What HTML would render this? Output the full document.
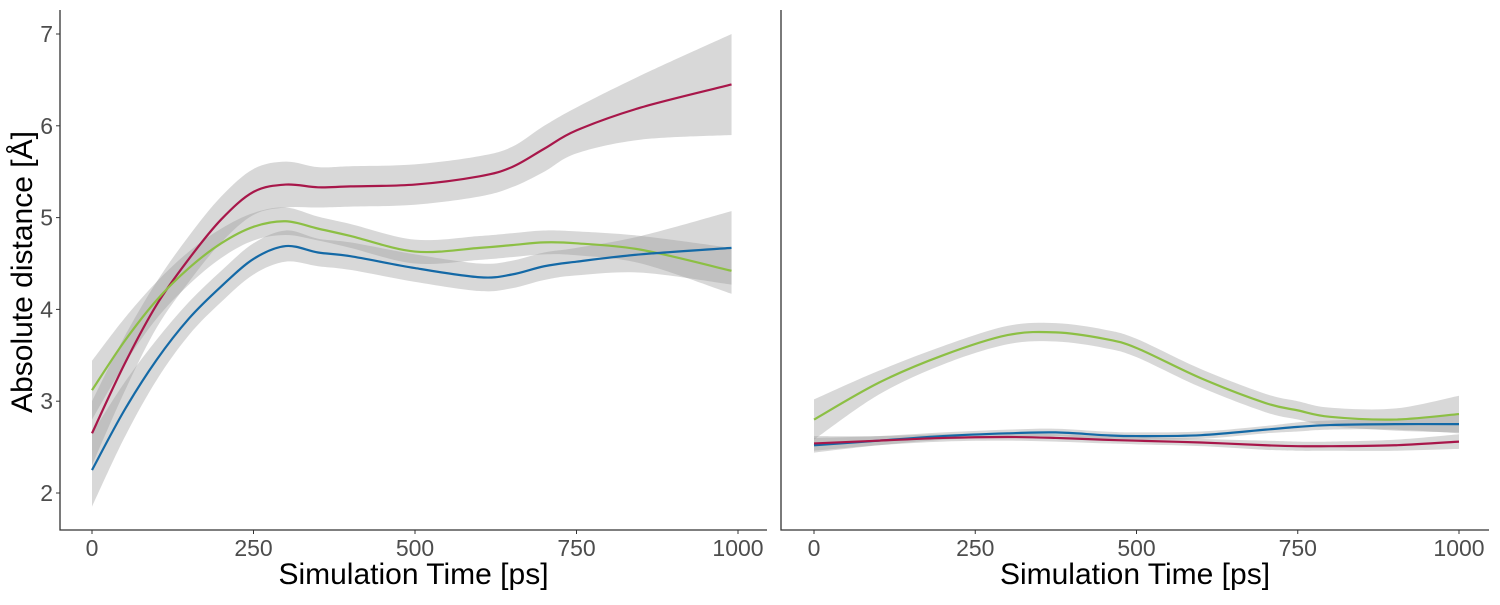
<!DOCTYPE html>
<html><head><meta charset="utf-8"><style>
body{margin:0;background:#fff}
svg text{font-family:"Liberation Sans",sans-serif}
</style></head><body>
<svg id="c" width="1500" height="600" xmlns="http://www.w3.org/2000/svg"></svg>
<script>
const xTicks=[0,250,500,750,1000];
const yTicks=[2,3,4,5,6,7];
const leftX=[0,50,100,150,200,250,300,350,400,500,600,650,700,750,850,990];
const leftRed=[2.65,3.4,4.05,4.55,4.98,5.28,5.36,5.33,5.34,5.36,5.45,5.55,5.75,5.95,6.2,6.45];
const leftRedSe=[0.35,0.3,0.25,0.25,0.25,0.25,0.25,0.22,0.22,0.22,0.22,0.22,0.25,0.25,0.35,0.55];
const leftGreen=[3.12,3.65,4.1,4.45,4.72,4.9,4.96,4.88,4.8,4.63,4.67,4.7,4.73,4.72,4.65,4.42];
const leftGreenSe=[0.32,0.25,0.2,0.18,0.16,0.15,0.15,0.13,0.13,0.13,0.13,0.13,0.13,0.13,0.15,0.25];
const leftBlue=[2.25,2.9,3.45,3.9,4.25,4.55,4.69,4.62,4.58,4.45,4.35,4.38,4.47,4.52,4.6,4.67];
const leftBlueSe=[0.4,0.3,0.22,0.18,0.17,0.17,0.17,0.15,0.15,0.15,0.15,0.15,0.15,0.15,0.2,0.4];
const rightX=[0,100,200,300,375,450,500,600,700,750,800,900,1000];
const rightGreen=[2.8,3.2,3.5,3.72,3.75,3.68,3.58,3.25,2.98,2.9,2.83,2.8,2.86];
const rightGreenSe=[0.22,0.13,0.1,0.1,0.1,0.1,0.1,0.1,0.1,0.1,0.1,0.12,0.2];
const rightBlue=[2.52,2.57,2.62,2.65,2.66,2.63,2.62,2.63,2.69,2.72,2.74,2.75,2.75];
const rightBlueSe=[0.08,0.05,0.04,0.04,0.04,0.04,0.04,0.04,0.04,0.05,0.05,0.06,0.1];
const rightRed=[2.54,2.57,2.6,2.61,2.6,2.58,2.57,2.55,2.52,2.51,2.51,2.52,2.56];
const rightRedSe=[0.08,0.05,0.04,0.04,0.04,0.04,0.04,0.04,0.05,0.05,0.05,0.06,0.08];

const svg=document.getElementById('c');
const NS='http://www.w3.org/2000/svg';
function el(t,a,p){const e=document.createElementNS(NS,t);for(const k in a)e.setAttribute(k,a[k]);(p||svg).appendChild(e);return e;}
const yS=v=>493-(v-2)*91.8;
function spline(pts){let d='M'+pts[0][0]+','+pts[0][1];for(let i=0;i<pts.length-1;i++){const p0=pts[Math.max(0,i-1)],p1=pts[i],p2=pts[i+1],p3=pts[Math.min(pts.length-1,i+2)];const c1=[p1[0]+(p2[0]-p0[0])/6,p1[1]+(p2[1]-p0[1])/6],c2=[p2[0]-(p3[0]-p1[0])/6,p2[1]-(p3[1]-p1[1])/6];d+=`C${c1[0]},${c1[1]} ${c2[0]},${c2[1]} ${p2[0]},${p2[1]}`;}return d;}
function panel(name,axX,x0,x1,axEnd,xs,series){
  const xS=v=>x0+(x1-x0)*v/1000;
  const g=el('g',{});
  
  
  series.forEach(s=>{
    const up=xs.map((x,i)=>[xS(x),yS(s.v[i]+s.se[i])]);
    const lo=xs.map((x,i)=>[xS(x),yS(s.v[i]-s.se[i])]).reverse();
    const d=spline(up)+' L'+lo[0][0]+','+lo[0][1]+spline(lo).replace(/^M[^C]*/,'')+'Z';
    const b=el('path',{d:d,fill:'#999',opacity:'0.38'},g);
    
    
  });
  series.forEach(s=>{
    const l=el('path',{d:spline(xs.map((x,i)=>[xS(x),yS(s.v[i])])),fill:'none',stroke:s.c,'stroke-width':2.2},g);
    
    
  });
  const ax=el('path',{d:`M${axX},10V530H${axEnd}`,fill:'none',stroke:'#333','stroke-width':1.3},g);
  
  
  xTicks.forEach(t=>{el('line',{x1:xS(t),x2:xS(t),y1:530,y2:534,stroke:'#333'},g);
    const tx=el('text',{x:xS(t),y:556,'text-anchor':'middle','font-size':23,fill:'#4d4d4d'},g);tx.textContent=t;
    
    });
  const xt=el('text',{x:(axX+axEnd)/2,y:584,'text-anchor':'middle','font-size':30,fill:'#000'},g);xt.textContent='Simulation Time [ps]';
  
  
}
panel('left-panel',60,92,738,767,leftX,[
 {n:'red',c:'#a8174a',v:leftRed,se:leftRedSe},{n:'green',c:'#8cbf44',v:leftGreen,se:leftGreenSe},{n:'blue',c:'#1469a6',v:leftBlue,se:leftBlueSe}]);
panel('right-panel',781,814,1459,1489,rightX,[
 {n:'green',c:'#8cbf44',v:rightGreen,se:rightGreenSe},{n:'blue',c:'#1469a6',v:rightBlue,se:rightBlueSe},{n:'red',c:'#a8174a',v:rightRed,se:rightRedSe}]);
yTicks.forEach(t=>{el('line',{x1:56,x2:60,y1:yS(t),y2:yS(t),stroke:'#333'});
  const tx=el('text',{x:53,y:yS(t)+8,'text-anchor':'end','font-size':23,fill:'#4d4d4d'});tx.textContent=t;
  
  });
const yt=el('text',{x:0,y:0,transform:'translate(32,272) rotate(-90)','text-anchor':'middle','font-size':30,fill:'#000'});
yt.textContent='Absolute distance [Å]';


</script>
</body></html>
